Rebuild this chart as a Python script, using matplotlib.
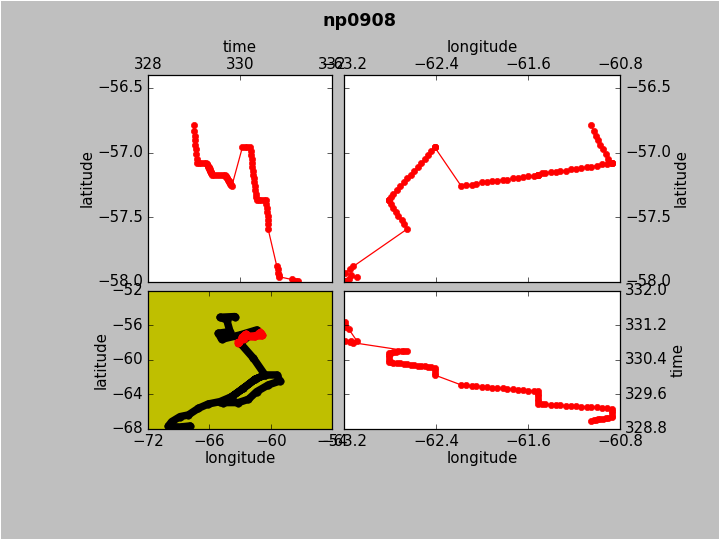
import matplotlib
matplotlib.use('Agg')
import matplotlib.pyplot as plt

# red segment of the cruise
time = [328.99, 329.00, 329.01, 329.02, 329.03, 329.04, 329.05, 329.06, 329.07,
        329.11, 329.16, 329.21, 329.27,
        329.28, 329.29, 329.30, 329.31, 329.32, 329.32, 329.33, 329.34, 329.34, 329.35, 329.36, 329.36, 329.37, 329.37, 329.38,
        329.44, 329.50, 329.56, 329.62, 329.67,
        329.68, 329.69, 329.70, 329.71, 329.72, 329.73, 329.74, 329.75, 329.76, 329.77, 329.78, 329.79, 329.80, 329.81, 329.82,
        330.05, 330.10, 330.16, 330.22,
        330.23, 330.24, 330.25, 330.26, 330.27, 330.28, 330.29, 330.30, 330.31, 330.32, 330.33, 330.34, 330.35, 330.36,
        330.41, 330.46, 330.51, 330.56,
        330.57, 330.58, 330.59, 330.60, 330.60, 330.61, 330.61,
        330.80, 330.82, 330.83, 330.84, 330.85,
        331.12, 331.17, 331.22, 331.27]
lat = [-56.79, -56.83, -56.87, -56.90, -56.94, -56.97, -57.01, -57.05, -57.08,
       -57.08, -57.08, -57.08, -57.08,
       -57.09, -57.09, -57.10, -57.11, -57.11, -57.12, -57.13, -57.13, -57.14, -57.14, -57.15, -57.15, -57.16, -57.16, -57.17,
       -57.17, -57.17, -57.17, -57.17, -57.17,
       -57.18, -57.18, -57.19, -57.20, -57.20, -57.21, -57.21, -57.22, -57.22, -57.23, -57.23, -57.24, -57.25, -57.25, -57.26,
       -56.96, -56.96, -56.96, -56.96,
       -56.99, -57.02, -57.05, -57.08, -57.11, -57.14, -57.17, -57.20, -57.23, -57.26, -57.29, -57.32, -57.34, -57.37,
       -57.37, -57.37, -57.37, -57.37,
       -57.40, -57.43, -57.46, -57.49, -57.52, -57.55, -57.59,
       -57.88, -57.90, -57.93, -57.945, -57.96,
       -57.98, -57.99, -57.99, -57.99]
lon = [-61.05, -61.03, -61.01, -60.99, -60.97, -60.95, -60.92, -60.90, -60.87,
       -60.87, -60.87, -60.87, -60.87,
       -60.91, -60.96, -61.00, -61.05, -61.09, -61.14, -61.18, -61.23, -61.27, -61.32, -61.36, -61.40, -61.45, -61.48, -61.51,
       -61.51, -61.51, -61.51, -61.51, -61.51,
       -61.55, -61.60, -61.64, -61.69, -61.73, -61.78, -61.82, -61.87, -61.91, -61.96, -62.00, -62.05, -62.09, -62.14, -62.18,
       -62.41, -62.41, -62.41, -62.41,
       -62.44, -62.47, -62.50, -62.53, -62.56, -62.59, -62.62, -62.65, -62.68, -62.71, -62.74, -62.77, -62.79, -62.81,
       -62.81, -62.81, -62.81, -62.81,
       -62.79, -62.77, -62.75, -62.73, -62.70, -62.68, -62.65,
       -63.12, -63.15, -63.19, -63.14, -63.09,
       -63.16, -63.19, -63.19, -63.19]

# whole cruise track for the overview panel
all_lon = [-63.49, -64.95, -64.30, -63.98, -65.12, -64.80, -63.00, -61.37,
           -62.98, -61.69, -60.56, -59.41, -59.09, -60.23, -61.37, -62.18, -63.16,
           -64.63, -63.81, -62.67, -61.53, -60.56, -61.53, -62.67, -63.81, -64.96,
           -66.10, -67.07, -68.05, -68.87, -69.68, -70.01, -69.19, -68.54, -67.89]
all_lat = [-54.97, -55.05, -55.36, -56.71, -56.90, -57.60, -57.10, -56.52,
           -58.06, -59.80, -61.74, -61.74, -62.43, -62.89, -63.67, -64.56, -64.94,
           -64.94, -64.25, -63.28, -62.24, -61.74, -62.24, -63.28, -64.25, -64.83,
           -65.10, -65.60, -66.37, -66.57, -67.15, -67.65, -67.80, -67.73, -67.65]

plt.style.use('classic')
plt.rcParams['font.size'] = 12
plt.rcParams['axes.labelpad'] = 2

fig = plt.figure(figsize=(8, 6), dpi=90)
fig.patch.set_edgecolor('w')
fig.patch.set_linewidth(1.5)

ax1 = fig.add_axes([0.2056, 0.4778, 0.2556, 0.3833])
ax1.plot(time, lat, 'r.-', ms=10)
ax1.set_xlim(328, 332)
ax1.set_ylim(-58, -56.4)
ax1.set_xticks([328, 330, 332])
ax1.set_yticks([-58, -57.5, -57, -56.5])
ax1.xaxis.tick_top()
ax1.xaxis.set_label_position('top')
ax1.tick_params(axis='x', bottom=True, pad=2.5)
ax1.set_xlabel('time', labelpad=4)
ax1.set_ylabel('latitude')

ax2 = fig.add_axes([0.4778, 0.4778, 0.3833, 0.3833])
ax2.plot(lon, lat, 'r.-', ms=10)
ax2.set_xlim(-63.2, -60.8)
ax2.set_ylim(-58, -56.4)
ax2.set_xticks([-63.2, -62.4, -61.6, -60.8])
ax2.set_yticks([-58, -57.5, -57, -56.5])
ax2.xaxis.tick_top()
ax2.xaxis.set_label_position('top')
ax2.yaxis.tick_right()
ax2.yaxis.set_label_position('right')
ax2.tick_params(axis='x', bottom=True, pad=2.5)
ax2.tick_params(axis='y', left=True)
ax2.set_xlabel('longitude', labelpad=4)
ax2.set_ylabel('latitude')

ax3 = fig.add_axes([0.2056, 0.2056, 0.2556, 0.2556], facecolor='y')
ax3.plot(all_lon, all_lat, 'k.-', lw=6, ms=12, solid_capstyle='round')
ax3.plot(lon, lat, 'r.-', lw=5, ms=11)
ax3.set_xlim(-72, -54)
ax3.set_ylim(-68, -52)
ax3.set_xticks([-72, -66, -60, -54])
ax3.set_yticks([-68, -64, -60, -56, -52])
ax3.set_xlabel('longitude')
ax3.set_ylabel('latitude')

ax4 = fig.add_axes([0.4778, 0.2056, 0.3833, 0.2556])
ax4.plot(lon, time, 'r.-', ms=10)
ax4.set_xlim(-63.2, -60.8)
ax4.set_ylim(328.8, 332.0)
ax4.set_xticks([-63.2, -62.4, -61.6, -60.8])
ax4.set_yticks([328.8, 329.6, 330.4, 331.2, 332.0])
ax4.ticklabel_format(useOffset=False)
ax4.yaxis.tick_right()
ax4.yaxis.set_label_position('right')
ax4.tick_params(axis='y', left=True)
ax4.set_xlabel('longitude')
ax4.set_ylabel('time')

fig.suptitle('np0908', fontsize=14, fontweight='bold', y=0.977)
fig.savefig('out.png', dpi=90, facecolor=fig.get_facecolor(), edgecolor='w')
plt.close(fig)
